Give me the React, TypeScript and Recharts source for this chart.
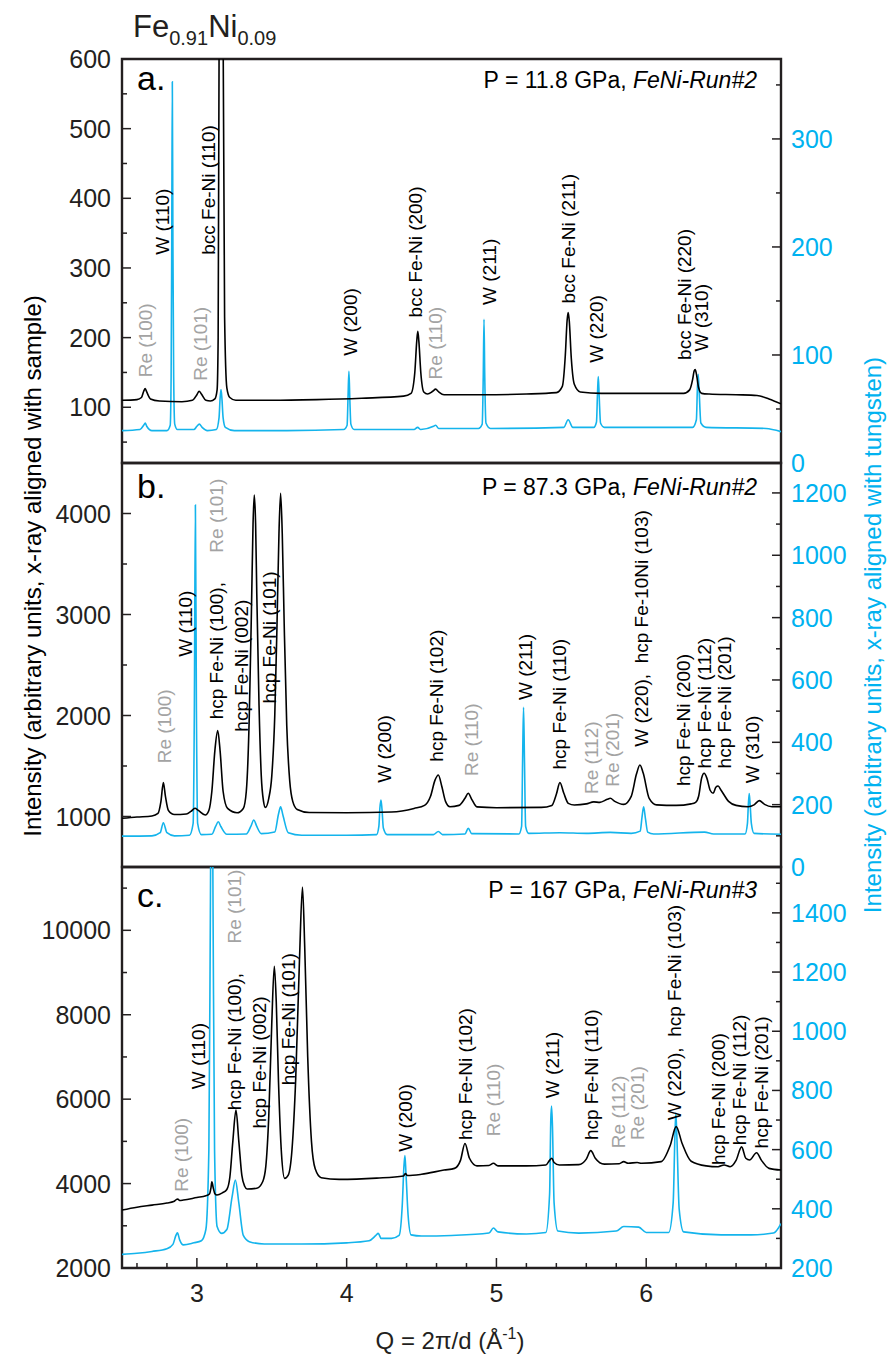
import { Line, LineChart, ReferenceArea, ReferenceDot, XAxis, YAxis } from "recharts";

type Pt = [number, number];
type Peak = [number, number, string, boolean?];

const W = 889;
const INK = "#231f20";
const CYAN = "#14b4ec";
const CYAN_TEXT = "#00b2f0";
const GRAY = "#a3a3a3";
const FONT = "'Liberation Sans', Arial, sans-serif";

const X_DOMAIN: [number, number] = [2.5, 6.9];
const X_TICKS = [2.6, 2.8, 3, 3.2, 3.4, 3.6, 3.8, 4, 4.2, 4.4, 4.6, 4.8, 5, 5.2, 5.4, 5.6, 5.8, 6, 6.2, 6.4, 6.6, 6.8];
const X_MAJOR = [3, 4, 5, 6];

// panel a: P = 11.8 GPa (bcc)
const A_LEFT: [number, number] = [20, 600];
const A_LEFT_TICKS = [50, 100, 150, 200, 250, 300, 350, 400, 450, 500, 550, 600];
const A_LEFT_MAJOR = [100, 200, 300, 400, 500, 600];
const A_RIGHT: [number, number] = [0, 374];
const A_RIGHT_TICKS = [0, 50, 100, 150, 200, 250, 300, 350];
const A_RIGHT_MAJOR = [0, 100, 200, 300];

const A_SAMPLE: Pt[] = [
  [2.5, 110], [2.6, 111], [2.63, 114], [2.645, 123], [2.655, 127], [2.665, 122], [2.69, 112], [2.75, 109],
  [2.9, 108], [2.97, 110], [3.0, 118], [3.015, 123], [3.03, 119], [3.06, 110], [3.09, 109], [3.12, 112],
  [3.135, 125], [3.142, 200], [3.148, 600], [3.155, 1400], [3.162, 1900], [3.169, 1400], [3.176, 600],
  [3.185, 230], [3.2, 128], [3.22, 114], [3.26, 110], [3.5, 110], [3.8, 111], [4.1, 113], [4.38, 116],
  [4.43, 120], [4.455, 150], [4.468, 195], [4.475, 209], [4.482, 195], [4.495, 150], [4.515, 122],
  [4.54, 119], [4.575, 123], [4.594, 126], [4.615, 122], [4.65, 118], [4.9, 118], [5.2, 119], [5.4, 121],
  [5.44, 130], [5.46, 175], [5.472, 225], [5.479, 236], [5.486, 225], [5.5, 170], [5.52, 133], [5.56, 122],
  [5.7, 120], [6.0, 120], [6.25, 120], [6.29, 125], [6.31, 140], [6.32, 152], [6.327, 154], [6.335, 148],
  [6.35, 128], [6.37, 120], [6.42, 119], [6.6, 118], [6.74, 117], [6.82, 112], [6.9, 105],
];

const A_TUNGSTEN: Pt[] = [
  [2.5, 30], [2.62, 31], [2.645, 35], [2.655, 37], [2.665, 34], [2.7, 30], [2.8, 30], [2.822, 35],
  [2.828, 80], [2.832, 200], [2.836, 353], [2.84, 200], [2.845, 80], [2.852, 36], [2.87, 31], [2.98, 31],
  [3.0, 34], [3.016, 36], [3.035, 33], [3.07, 30], [3.13, 31], [3.148, 42], [3.155, 60], [3.161, 68],
  [3.167, 60], [3.175, 42], [3.19, 33], [3.25, 30], [3.6, 30], [3.98, 31], [4.003, 35], [4.009, 60],
  [4.015, 85], [4.021, 60], [4.028, 36], [4.05, 31], [4.45, 31], [4.474, 33], [4.495, 31], [4.58, 34],
  [4.594, 35], [4.615, 32], [4.88, 32], [4.905, 36], [4.912, 80], [4.917, 133], [4.922, 80], [4.93, 37],
  [4.96, 32], [5.45, 33], [5.479, 40], [5.51, 33], [5.65, 33], [5.668, 38], [5.675, 65], [5.68, 80],
  [5.686, 62], [5.695, 37], [5.72, 33], [6.31, 33], [6.335, 40], [6.342, 70], [6.347, 82], [6.353, 68],
  [6.365, 37], [6.4, 33], [6.8, 32], [6.9, 29],
];

const A_PEAKS: Peak[] = [
  [2.66, 143, "Re (100)", true],
  [2.772, 319, "W (110)"],
  [3.025, 138, "Re (101)", true],
  [3.076, 319, "bcc Fe-Ni (110)"],
  [4.029, 174, "W (200)"],
  [4.463, 229, "bcc Fe-Ni (200)"],
  [4.596, 140, "Re (110)", true],
  [4.952, 247, "W (211)"],
  [5.479, 249, "bcc Fe-Ni (211)"],
  [5.669, 164, "W (220)"],
  [6.258, 168, "bcc Fe-Ni (220)"],
  [6.37, 180, "W (310)"],
];

// panel b: P = 87.3 GPa (hcp)
const B_LEFT: [number, number] = [500, 4500];
const B_LEFT_TICKS = [500, 1000, 1500, 2000, 2500, 3000, 3500, 4000];
const B_LEFT_MAJOR = [1000, 2000, 3000, 4000];
const B_RIGHT: [number, number] = [0, 1296];
const B_RIGHT_TICKS = [0, 100, 200, 300, 400, 500, 600, 700, 800, 900, 1000, 1100, 1200];
const B_RIGHT_MAJOR = [0, 200, 400, 600, 800, 1000, 1200];

const B_SAMPLE: Pt[] = [
  [2.5, 982], [2.6, 995], [2.7, 1005], [2.74, 1030], [2.76, 1150], [2.776, 1335], [2.79, 1200], [2.81, 1060],
  [2.85, 1020], [2.93, 1025], [2.96, 1050], [2.987, 1081], [3.01, 1060], [3.056, 1015], [3.08, 1060],
  [3.1, 1250], [3.12, 1650], [3.139, 1850], [3.155, 1650], [3.175, 1250], [3.205, 1080], [3.268, 1037],
  [3.31, 1080], [3.33, 1250], [3.35, 2000], [3.365, 3100], [3.375, 3900], [3.383, 4183], [3.392, 3900],
  [3.4, 3200], [3.415, 2100], [3.43, 1400], [3.445, 1150], [3.457, 1090], [3.48, 1180], [3.5, 1400],
  [3.52, 2000], [3.535, 2900], [3.548, 3800], [3.559, 4200], [3.57, 3800], [3.583, 2900], [3.6, 1900],
  [3.62, 1350], [3.64, 1150], [3.67, 1070], [3.75, 1040], [4.0, 1037], [4.3, 1045], [4.45, 1080],
  [4.52, 1110], [4.56, 1200], [4.59, 1360], [4.612, 1411], [4.635, 1300], [4.66, 1150], [4.69, 1097],
  [4.75, 1110], [4.79, 1180], [4.812, 1230], [4.835, 1170], [4.87, 1095], [5.0, 1087], [5.3, 1090],
  [5.37, 1110], [5.4, 1220], [5.424, 1335], [5.45, 1230], [5.48, 1130], [5.52, 1114], [5.6, 1125],
  [5.65, 1145], [5.69, 1140], [5.74, 1170], [5.76, 1180], [5.79, 1150], [5.85, 1120], [5.9, 1200],
  [5.935, 1420], [5.958, 1510], [5.98, 1430], [6.02, 1180], [6.07, 1115], [6.2, 1110], [6.3, 1125],
  [6.33, 1140], [6.35, 1200], [6.37, 1380], [6.387, 1428], [6.405, 1380], [6.427, 1260], [6.447, 1230],
  [6.465, 1290], [6.48, 1302], [6.5, 1260], [6.55, 1150], [6.6, 1110], [6.68, 1097], [6.72, 1115],
  [6.755, 1157], [6.79, 1120], [6.84, 1097], [6.9, 1097],
];

const B_TUNGSTEN: Pt[] = [
  [2.5, 99], [2.7, 100], [2.755, 110], [2.776, 142], [2.8, 110], [2.85, 100], [2.95, 102], [2.975, 140],
  [2.983, 500], [2.99, 1161], [2.997, 500], [3.005, 140], [3.03, 104], [3.1, 105], [3.125, 130],
  [3.143, 145], [3.16, 130], [3.2, 105], [3.33, 106], [3.36, 130], [3.38, 151], [3.4, 130], [3.43, 107],
  [3.52, 112], [3.545, 170], [3.559, 193], [3.575, 165], [3.61, 110], [3.7, 102], [4.0, 102], [4.2, 104],
  [4.215, 130], [4.222, 190], [4.229, 215], [4.236, 185], [4.245, 125], [4.27, 104], [4.58, 104],
  [4.612, 114], [4.64, 104], [4.79, 106], [4.812, 124], [4.835, 107], [5.15, 106], [5.168, 130],
  [5.175, 350], [5.181, 512], [5.187, 350], [5.195, 130], [5.215, 108], [5.424, 110], [5.6, 108],
  [5.76, 111], [5.9, 108], [5.96, 115], [5.972, 160], [5.983, 193], [5.995, 155], [6.01, 112], [6.05, 106],
  [6.39, 112], [6.45, 106], [6.66, 106], [6.676, 140], [6.682, 200], [6.688, 236], [6.694, 200],
  [6.702, 140], [6.72, 108], [6.9, 105],
];

const B_PEAKS: Peak[] = [
  [2.787, 1527, "Re (100)", true],
  [2.927, 2582, "W (110)"],
  [3.132, 3612, "Re (101)", true],
  [3.132, 1962, "hcp Fe-Ni (100),"],
  [3.299, 1840, "hcp Fe-Ni (002)"],
  [3.483, 2120, "hcp Fe-Ni (101)"],
  [4.256, 1335, "W (200)"],
  [4.6, 1543, "hcp Fe-Ni (102)"],
  [4.834, 1401, "Re (110)", true],
  [5.197, 2153, "W (211)"],
  [5.424, 1466, "hcp Fe-Ni (110)"],
  [5.635, 1223, "Re (112)", true],
  [5.776, 1295, "Re (201)", true],
  [5.969, 1691, "W (220),  hcp Fe-10Ni (103)"],
  [6.252, 1302, "hcp Fe-Ni (200)"],
  [6.392, 1476, "hcp Fe-Ni (112)"],
  [6.525, 1476, "hcp Fe-Ni (201)"],
  [6.71, 1329, "W (310)"],
];

// panel c: P = 167 GPa (hcp)
const C_LEFT: [number, number] = [2000, 11500];
const C_LEFT_TICKS = [2000, 3000, 4000, 5000, 6000, 7000, 8000, 9000, 10000, 11000];
const C_LEFT_MAJOR = [2000, 4000, 6000, 8000, 10000];
const C_RIGHT: [number, number] = [200, 1555];
const C_RIGHT_TICKS = [200, 300, 400, 500, 600, 700, 800, 900, 1000, 1100, 1200, 1300, 1400, 1500];
const C_RIGHT_MAJOR = [200, 400, 600, 800, 1000, 1200, 1400];

const C_SAMPLE: Pt[] = [
  [2.5, 3373], [2.6, 3440], [2.7, 3490], [2.8, 3540], [2.845, 3575], [2.862, 3620], [2.872, 3635],
  [2.885, 3600], [2.91, 3610], [3.0, 3670], [3.06, 3710], [3.085, 3760], [3.094, 3900], [3.1, 4043],
  [3.108, 3920], [3.12, 3760], [3.134, 3730], [3.17, 3780], [3.2, 3860], [3.22, 4150], [3.24, 5000],
  [3.261, 5740], [3.28, 5000], [3.3, 4200], [3.32, 3930], [3.335, 3870], [3.4, 3890], [3.44, 4050],
  [3.46, 4400], [3.48, 5600], [3.5, 7800], [3.517, 9148], [3.53, 8300], [3.545, 6400], [3.565, 4700],
  [3.586, 4123], [3.61, 4200], [3.635, 4800], [3.66, 6500], [3.685, 9300], [3.705, 11025], [3.72, 9600],
  [3.74, 7000], [3.765, 5000], [3.79, 4350], [3.83, 4140], [3.95, 4100], [4.2, 4130], [4.38, 4180],
  [4.392, 4240], [4.405, 4190], [4.5, 4220], [4.65, 4320], [4.72, 4360], [4.76, 4550], [4.79, 4950],
  [4.82, 4600], [4.87, 4420], [4.95, 4430], [4.98, 4480], [5.01, 4420], [5.2, 4420], [5.33, 4440],
  [5.355, 4550], [5.37, 4600], [5.385, 4500], [5.42, 4440], [5.55, 4450], [5.6, 4580], [5.63, 4780],
  [5.66, 4600], [5.72, 4460], [5.82, 4470], [5.85, 4520], [5.88, 4480], [5.94, 4500], [5.97, 4480],
  [6.1, 4520], [6.16, 4900], [6.2, 5350], [6.24, 4950], [6.3, 4530], [6.4, 4420], [6.48, 4400],
  [6.52, 4440], [6.56, 4400], [6.6, 4550], [6.637, 4870], [6.665, 4600], [6.69, 4560], [6.737, 4730],
  [6.77, 4550], [6.82, 4360], [6.9, 4320],
];

const C_TUNGSTEN: Pt[] = [
  [2.5, 246], [2.6, 250], [2.7, 256], [2.8, 265], [2.84, 280], [2.86, 310], [2.87, 319], [2.885, 295],
  [2.91, 278], [2.98, 285], [3.03, 292], [3.06, 330], [3.08, 600], [3.09, 1400], [3.099, 2200],
  [3.108, 1400], [3.118, 600], [3.135, 340], [3.165, 317], [3.2, 330], [3.235, 440], [3.257, 497],
  [3.28, 420], [3.31, 310], [3.35, 289], [3.45, 281], [3.7, 281], [4.0, 285], [4.15, 292], [4.195, 310],
  [4.211, 317], [4.23, 300], [4.3, 300], [4.35, 310], [4.372, 420], [4.382, 540], [4.389, 580],
  [4.396, 520], [4.41, 380], [4.43, 312], [4.5, 308], [4.7, 310], [4.95, 318], [4.98, 335], [5.01, 322],
  [5.2, 315], [5.33, 320], [5.355, 450], [5.363, 700], [5.368, 747], [5.374, 680], [5.385, 420],
  [5.41, 325], [5.55, 318], [5.8, 325], [5.85, 340], [5.95, 338], [6.0, 320], [6.15, 320], [6.18, 420],
  [6.192, 650], [6.198, 724], [6.205, 640], [6.22, 400], [6.25, 322], [6.5, 312], [6.7, 312], [6.85, 318],
  [6.9, 350],
];

const C_PEAKS: Peak[] = [
  [2.894, 3806, "Re (100)", true],
  [3.014, 6237, "W (110)"],
  [3.254, 9686, "Re (101)", true],
  [3.254, 5740, "hcp Fe-Ni (100),"],
  [3.421, 5306, "hcp Fe-Ni (002)"],
  [3.61, 6331, "hcp Fe-Ni (101)"],
  [4.396, 4753, "W (200)"],
  [4.796, 5030, "hcp Fe-Ni (102)"],
  [4.983, 5124, "Re (110)", true],
  [5.377, 6024, "W (211)"],
  [5.637, 5030, "hcp Fe-Ni (110)"],
  [5.818, 4840, "Re (112)", true],
  [5.944, 5030, "Re (201)", true],
  [6.19, 5500, "W (220),  hcp Fe-Ni (103)"],
  [6.48, 4438, "hcp Fe-Ni (200)"],
  [6.626, 4911, "hcp Fe-Ni (112)"],
  [6.77, 4833, "hcp Fe-Ni (201)"],
];

const rows = (pts: Pt[]) => pts.map(([q, v]) => ({ q, v }));

const leftTick = (major: number[]) => (p: any) => {
  const v = p.payload.value;
  const isMajor = major.includes(v);
  return (
    <g>
      <line x1={p.x} x2={p.x + (isMajor ? 9 : 5)} y1={p.y} y2={p.y} stroke={INK} strokeWidth={1.5} />
      {isMajor && (
        <text x={p.x - 11} y={p.y} textAnchor="end" dominantBaseline="central" fontSize={25} fill={INK} fontFamily={FONT}>
          {v}
        </text>
      )}
    </g>
  );
};

const rightTick = (major: number[]) => (p: any) => {
  const v = p.payload.value;
  const isMajor = major.includes(v);
  return (
    <g>
      <line x1={p.x} x2={p.x - (isMajor ? 9 : 5)} y1={p.y} y2={p.y} stroke={INK} strokeWidth={1.5} />
      {isMajor && (
        <text x={p.x + 10} y={p.y} textAnchor="start" dominantBaseline="central" fontSize={25} fill={CYAN_TEXT} fontFamily={FONT}>
          {v}
        </text>
      )}
    </g>
  );
};

const bottomTick = (labels: boolean) => (p: any) => {
  const v = p.payload.value;
  const isMajor = X_MAJOR.includes(v);
  return (
    <g>
      <line x1={p.x} x2={p.x} y1={p.y} y2={p.y - (isMajor ? 10 : 5)} stroke={INK} strokeWidth={1.5} />
      {labels && isMajor && (
        <text x={p.x} y={p.y + 34} textAnchor="middle" fontSize={25} fill={INK} fontFamily={FONT}>
          {v}
        </text>
      )}
    </g>
  );
};

function Panel(props: {
  top: number;
  height: number;
  left: [number, number];
  leftTicks: number[];
  leftMajor: number[];
  right: [number, number];
  rightTicks: number[];
  rightMajor: number[];
  sample: Pt[];
  tungsten: Pt[];
  peaks: Peak[];
  showX?: boolean;
}) {
  // generous margins so edge tick labels are not cut by the svg box
  const mt = 20;
  const xh = props.showX ? 70 : 0;
  const mb = props.showX ? 0 : 20;
  return (
    <div style={{ position: "absolute", left: 0, top: props.top - mt }}>
      <LineChart width={W} height={props.height + mt + mb + xh} margin={{ top: mt, right: 0, bottom: mb, left: 0 }}>
        <XAxis
          dataKey="q"
          type="number"
          domain={X_DOMAIN}
          allowDataOverflow
          ticks={X_TICKS}
          interval={0}
          tickSize={0}
          tickMargin={0}
          tickLine={false}
          axisLine={false}
          height={xh}
          tick={bottomTick(!!props.showX)}
        />
        <YAxis
          yAxisId="L"
          orientation="left"
          width={122}
          type="number"
          domain={props.left}
          allowDataOverflow
          ticks={props.leftTicks}
          interval={0}
          tickSize={0}
          tickMargin={0}
          tickLine={false}
          axisLine={false}
          tick={leftTick(props.leftMajor)}
        />
        <YAxis
          yAxisId="R"
          orientation="right"
          width={108}
          type="number"
          domain={props.right}
          allowDataOverflow
          ticks={props.rightTicks}
          interval={0}
          tickSize={0}
          tickMargin={0}
          tickLine={false}
          axisLine={false}
          tick={rightTick(props.rightMajor)}
        />
        <ReferenceArea
          yAxisId="L"
          x1={X_DOMAIN[0]}
          x2={X_DOMAIN[1]}
          y1={props.left[0]}
          y2={props.left[1]}
          fill="none"
          fillOpacity={0}
          stroke={INK}
          strokeWidth={2.4}
          ifOverflow="visible"
        />
        <Line
          yAxisId="R"
          data={rows(props.tungsten)}
          dataKey="v"
          type="monotone"
          stroke={CYAN}
          strokeWidth={1.6}
          dot={false}
          activeDot={false}
          isAnimationActive={false}
        />
        <Line
          yAxisId="L"
          data={rows(props.sample)}
          dataKey="v"
          type="monotone"
          stroke="#000"
          strokeWidth={1.6}
          dot={false}
          activeDot={false}
          isAnimationActive={false}
        />
        {props.peaks.map(([q, y, text, gray], i) => (
          <ReferenceDot
            key={i}
            yAxisId="L"
            x={q}
            y={y}
            r={0}
            ifOverflow="visible"
            shape={(s: any) => (
              <text
                x={s.cx}
                y={s.cy}
                transform={`rotate(-90 ${s.cx} ${s.cy})`}
                textAnchor="start"
                dominantBaseline="central"
                fontSize={19}
                fontFamily={FONT}
                fill={gray ? GRAY : "#000"}
                style={{ whiteSpace: "pre" }}
              >
                {text}
              </text>
            )}
          />
        ))}
      </LineChart>
    </div>
  );
}

const PRESSURES = [
  { y: 88, plain: "P = 11.8 GPa, ", run: "FeNi-Run#2", tag: "a.", tagY: 90 },
  { y: 495, plain: "P = 87.3 GPa, ", run: "FeNi-Run#2", tag: "b.", tagY: 498 },
  { y: 898, plain: "P = 167 GPa, ", run: "FeNi-Run#3", tag: "c.", tagY: 907 },
];

export default function App() {
  return (
    <div style={{ position: "absolute", left: 0, top: 0, width: W, height: 1357, background: "#fff", fontFamily: FONT }}>
      <Panel
        top={59}
        height={404}
        left={A_LEFT}
        leftTicks={A_LEFT_TICKS}
        leftMajor={A_LEFT_MAJOR}
        right={A_RIGHT}
        rightTicks={A_RIGHT_TICKS}
        rightMajor={A_RIGHT_MAJOR}
        sample={A_SAMPLE}
        tungsten={A_TUNGSTEN}
        peaks={A_PEAKS}
      />
      <Panel
        top={463}
        height={404}
        left={B_LEFT}
        leftTicks={B_LEFT_TICKS}
        leftMajor={B_LEFT_MAJOR}
        right={B_RIGHT}
        rightTicks={B_RIGHT_TICKS}
        rightMajor={B_RIGHT_MAJOR}
        sample={B_SAMPLE}
        tungsten={B_TUNGSTEN}
        peaks={B_PEAKS}
      />
      <Panel
        top={867}
        height={401}
        left={C_LEFT}
        leftTicks={C_LEFT_TICKS}
        leftMajor={C_LEFT_MAJOR}
        right={C_RIGHT}
        rightTicks={C_RIGHT_TICKS}
        rightMajor={C_RIGHT_MAJOR}
        sample={C_SAMPLE}
        tungsten={C_TUNGSTEN}
        peaks={C_PEAKS}
        showX
      />
      <svg width={W} height={1357} style={{ position: "absolute", left: 0, top: 0, pointerEvents: "none" }}>
        <text x={133} y={37} fontSize={31} fill={INK} fontFamily={FONT}>
          Fe
          <tspan fontSize={20} dy={8}>0.91</tspan>
          <tspan fontSize={31} dy={-8}>Ni</tspan>
          <tspan fontSize={20} dy={8}>0.09</tspan>
        </text>
        {PRESSURES.map((p) => (
          <g key={p.tag}>
            <text x={137} y={p.tagY} fontSize={34} fill="#000" fontFamily={FONT}>
              {p.tag}
            </text>
            <text x={757} y={p.y} textAnchor="end" fontSize={23} fill="#000" fontFamily={FONT}>
              {p.plain}
              <tspan fontStyle="italic">{p.run}</tspan>
            </text>
          </g>
        ))}
        <text
          x={32}
          y={566}
          transform="rotate(-90 32 566)"
          textAnchor="middle"
          dominantBaseline="central"
          fontSize={24}
          fill="#000"
          fontFamily={FONT}
        >
          Intensity (arbitrary units, x-ray aligned with sample)
        </text>
        <text
          x={872}
          y={635}
          transform="rotate(-90 872 635)"
          textAnchor="middle"
          dominantBaseline="central"
          fontSize={24}
          fill={CYAN_TEXT}
          fontFamily={FONT}
        >
          Intensity (arbitrary units, x-ray aligned with tungsten)
        </text>
        <text x={450} y={1349} textAnchor="middle" fontSize={24} fill={INK} fontFamily={FONT}>
          Q = 2π/d (Å
          <tspan fontSize={16} dy={-10}>-1</tspan>
          <tspan fontSize={24} dy={10}>)</tspan>
        </text>
      </svg>
    </div>
  );
}
